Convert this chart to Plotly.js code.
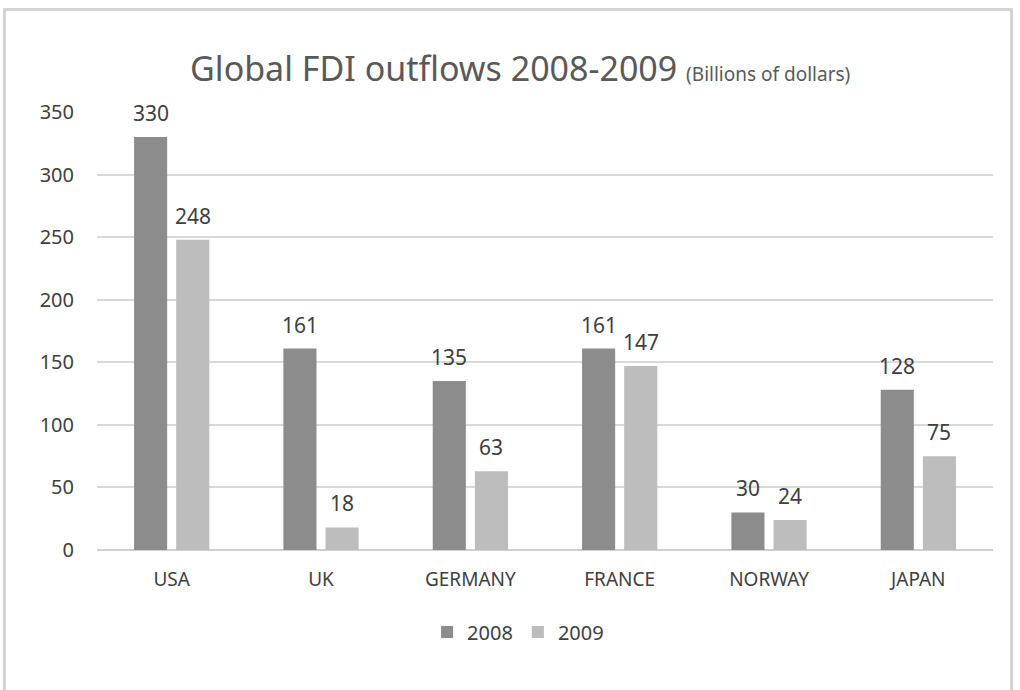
<!DOCTYPE html>
<html><head><meta charset="utf-8">
<script src="https://cdn.plot.ly/plotly-3.0.1.min.js"></script>
<style>
html,body{margin:0;padding:0;background:#fff;}
#frame{position:absolute;left:3px;top:8px;width:1010px;height:700px;border:3px solid #d4d4d4;box-sizing:border-box;}
#chart{position:absolute;left:0;top:0;width:1020px;height:690px;}
</style></head>
<body>
<div id="frame"></div>
<div id="chart"></div>
<script>
const countries = ["USA","UK","GERMANY","FRANCE","NORWAY","JAPAN"];
const values2008 = [330,161,135,161,30,128];
const values2009 = [248,18,63,147,24,75];
const seriesNames = ["2008","2009"];

const FONT = "'Noto Sans', sans-serif";
const txt = "#404040";

const traces = [
  {type:"bar", name:seriesNames[0], x:countries, y:values2008, marker:{color:"#8c8c8c"}},
  {type:"bar", name:seriesNames[1], x:countries, y:values2009, marker:{color:"#bdbdbd"}}
];

const annotations = [];
[[values2008,-21],[values2009,21]].forEach(([vals,dx])=>{
  countries.forEach((c,i)=>{
    annotations.push({x:c, y:vals[i], xref:"x", yref:"y", text:String(vals[i]), showarrow:false,
      xshift:dx, yshift:8, yanchor:"bottom", xanchor:"center",
      font:{size:21,color:txt,family:FONT}});
  });
});

const layout = {
  width:1020, height:690,
  paper_bgcolor:"rgba(0,0,0,0)", plot_bgcolor:"rgba(0,0,0,0)",
  margin:{l:97,r:27,t:112,b:140},
  font:{family:FONT,color:txt},
  title:{text:"Global FDI outflows 2008-2009 <span style='font-size:19px'>(Billions of dollars)</span>",
    font:{size:34,color:"#595959",family:FONT}, xref:"container", x:0.51, xanchor:"center",
    yref:"container", y:0.9, yanchor:"middle"},
  barmode:"group", bargap:0.436, bargroupgap:0.214,
  annotations:annotations,
  xaxis:{tickfont:{size:19,color:txt}, showline:false, ticks:"", ticklabelstandoff:16},
  yaxis:{range:[0,350], dtick:50, tickfont:{size:20,color:txt}, gridcolor:"#d9d9d9", gridwidth:1.5,
    zeroline:true, zerolinecolor:"#d0d0d0", zerolinewidth:2, ticks:"", ticklabelstandoff:22},
  showlegend:true,
  legend:{orientation:"h", x:0.47, xanchor:"center", y:-0.187, yanchor:"middle",
    font:{size:20,color:txt}, itemwidth:30}
};

Plotly.newPlot("chart", traces, layout, {displayModeBar:false});
</script>
</body></html>
